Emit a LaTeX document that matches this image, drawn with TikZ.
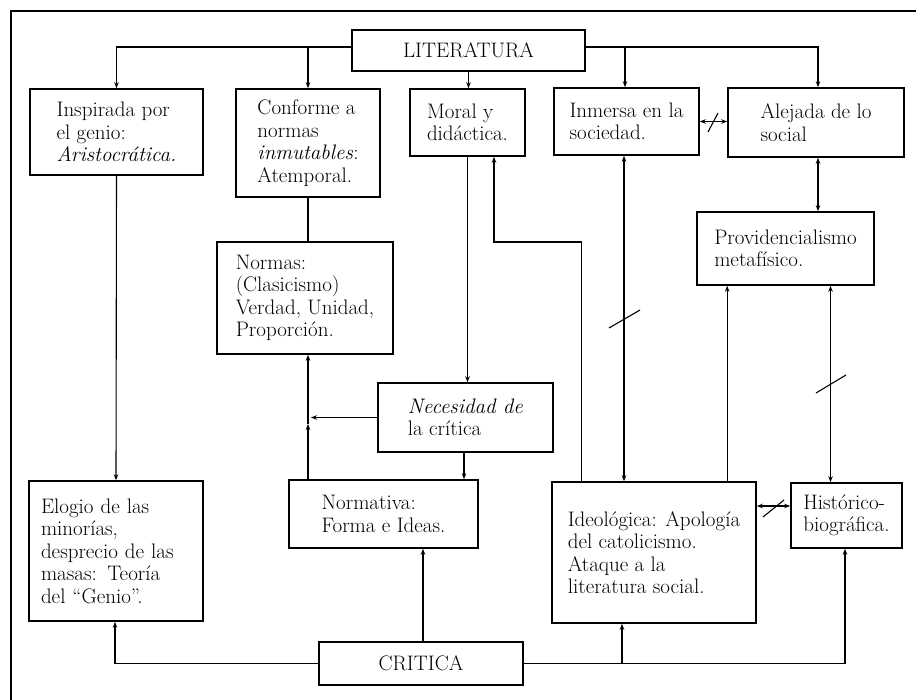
\documentclass[tikz,border=0pt]{standalone}
\usepackage{fontspec}
\usetikzlibrary{arrows.meta}
\begin{document}
\begin{tikzpicture}[x=1pt,y=-1pt,
  box/.style={draw, line width=1.6pt, rectangle, inner sep=0pt, align=left,
    font=\fontsize{21}{22.5}\selectfont},
  con/.style={line width=1.1pt},
  slash/.style={line width=1.1pt},
  >={Stealth[length=6pt,width=4.5pt]}]
\useasboundingbox (0,0) rectangle (916,700);
% outer frame (top and left only)
\draw[line width=1.3pt] (916,11) -- (11,11) -- (11,700);

% boxes
\node[box, minimum width=233pt, minimum height=41pt] (lit) at (468.5,50.5) {LITERATURA};
\node[box, minimum width=173pt, minimum height=86pt] (insp) at (116.5,132) {Inspirada por\\el genio:\\\textit{Aristocrática.}};
\node[box, minimum width=144pt, minimum height=108pt] (conf) at (308,143) {Conforme a\\normas\\\textit{inmutables}:\\Atemporal.};
\node[box, minimum width=115pt, minimum height=67pt] (moral) at (467.5,122.5) {Moral y\\didáctica.};
\node[box, minimum width=145pt, minimum height=67pt] (inm) at (626.5,121.5) {Inmersa en la\\sociedad.};
\node[box, minimum width=176pt, minimum height=69pt] (alej) at (816,122.5) {Alejada de lo\\social};
\node[box, minimum width=177pt, minimum height=73pt] (prov) at (785.5,248.5) {Providencialismo\\metafísico.};
\node[box, minimum width=176pt, minimum height=112pt] (norm) at (305,298) {Normas:\\(Clasicismo)\\Verdad, Unidad,\\Proporción.};
\node[box, minimum width=175pt, minimum height=69pt] (nec) at (465.5,417.5) {\textit{Necesidad de}\\la crítica};
\node[box, minimum width=174pt, minimum height=140pt, text width=150pt, inner xsep=12pt] (elog) at (116,551) {Elogio de las\\minorías,\\desprecio de las\\masas: Teoría\\del “Genio”.};
\node[box, minimum width=189pt, minimum height=68pt] (normat) at (383.5,514) {Normativa:\\Forma e Ideas.};
\node[box, minimum width=204pt, minimum height=141pt] (ideo) at (654,552.5) {Ideológica: Apología\\del catolicismo.\\Ataque a la\\literatura social.};
\node[box, minimum width=111pt, minimum height=65pt] (hist) at (846.5,515.5) {Histórico-\\biográfica.};
\node[box, minimum width=204pt, minimum height=43pt] (crit) at (421,663.5) {CRITICA};

% helper coordinates
\coordinate (jn) at (308,419);
\coordinate (jt) at (308,424);
\coordinate (bend) at (494,242);
\coordinate (br) at (622,663.5);

% from LITERATURA
\draw[con,->] ([yshift=3.5pt]lit.west) -| (insp.north);
\draw[con,->] ([yshift=3.5pt]lit.west) -| (conf.north);
\draw[con,->] (lit.south) -- (lit.south |- moral.north);
\draw[con,->] ([yshift=3.5pt]lit.east) -| ([xshift=-1.5pt]inm.north);
\draw[con,->] ([yshift=3.5pt]lit.east) -| ([xshift=2pt]alej.north);

% top row links
\draw[con,<->] (inm.east) -- (inm.east -| alej.west);
\draw[slash] (708,132) -- (718,113);
\draw[con,<->] ([xshift=2pt]alej.south) -- ([xshift=2pt]alej.south |- prov.north);
\draw[con,->] (insp.south) -- (elog.north);
\draw[con] (conf.south) -- (conf.south |- norm.north);
\draw[con,->] (moral.south) -- (moral.south |- nec.north);
\draw[con,->] ([xshift=30pt]ideo.north west) |- (bend) -- (bend |- moral.south);
\draw[con,<->] ([xshift=-2.5pt]inm.south) -- ([xshift=-2.5pt]inm.south |- ideo.north);
\draw[slash] (609,328) -- (640,310);
\draw[con,->] ([xshift=176pt]ideo.north west) -- ([xshift=176pt]ideo.north west |- prov.south);
\draw[con,<->] ([xshift=-16pt]hist.north) -- ([xshift=-16pt]hist.north |- prov.south);
\draw[slash] (816,393) -- (846,375);

% middle links
\draw[con,->] (nec.west) -- ([xshift=3pt]nec.west -| jn);
\draw[con,->] (jn |- normat.north) -- (jt);
\draw[con,->] (jt) -- (jt |- norm.south);
\draw[con,->] ([xshift=-1.5pt]nec.south) -- ([xshift=-1.5pt]nec.south |- normat.north);

% from CRITICA
\draw[con,->] ([xshift=2pt]crit.north) -- ([xshift=2pt]crit.north |- normat.south);
\draw[con,->] (crit.west) -| ([xshift=-1pt]elog.south);
\draw[con,->] (crit.east) -| ([xshift=-1.5pt]hist.south);
\draw[con,->] (br) -- (br |- ideo.south);

% Ideologica <-> Historico
\draw[con,<->] ([yshift=9.5pt]hist.west) -- ([yshift=9.5pt]hist.west -| ideo.east);
\draw[slash] (763,517) -- (784,500);
\end{tikzpicture}
\end{document}
